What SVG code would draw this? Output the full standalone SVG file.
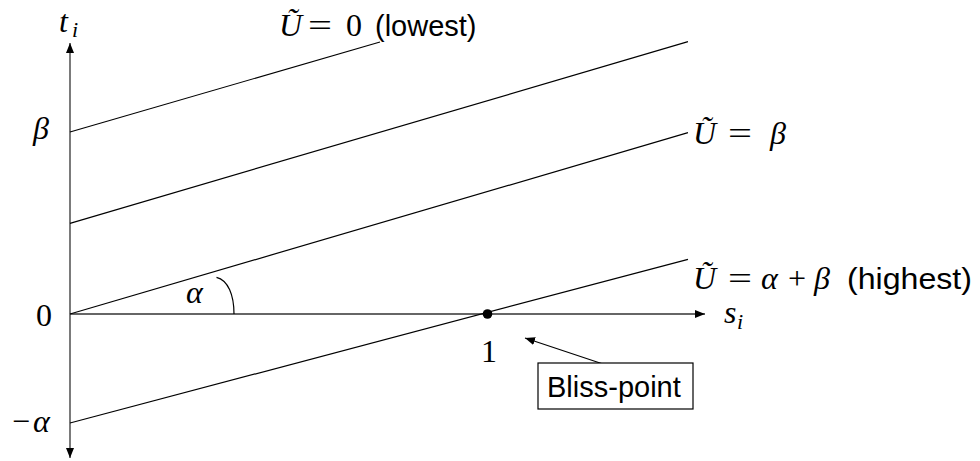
<svg xmlns="http://www.w3.org/2000/svg" width="980" height="461" viewBox="0 0 980 461">
<style>
.m{font-family:"Liberation Serif","DejaVu Serif",serif;font-size:32px;fill:#000}
.mi{font-family:"Liberation Serif","DejaVu Serif",serif;font-style:italic;font-size:32px;fill:#000}
.sub{font-family:"Liberation Serif","DejaVu Serif",serif;font-style:italic;font-size:22px;fill:#000}
.t{font-family:"Liberation Sans","DejaVu Sans",sans-serif;font-size:29px;fill:#000}
.ax{stroke:#333;stroke-width:1.3;fill:none}
.ln{stroke:#000;stroke-width:1.2;fill:none}
</style>
<defs>
<marker id="ah" viewBox="0 0 10 10" refX="10" refY="5" markerWidth="10" markerHeight="10" markerUnits="userSpaceOnUse" orient="auto">
<path d="M0,1 L10,5 L0,9 Z" fill="#000"/>
</marker>
</defs>
<g id="axes">
<line class="ax" x1="70" y1="314" x2="705" y2="314" marker-end="url(#ah)"/>
<line class="ax" x1="70" y1="314" x2="70" y2="43" marker-end="url(#ah)"/>
<line class="ax" x1="70" y1="314" x2="70" y2="458" marker-end="url(#ah)"/>
</g>
<g id="connectors">
<line class="ln" x1="70" y1="132" x2="380" y2="42"/>
<line class="ln" x1="70" y1="223.3" x2="688" y2="41.7"/>
<line class="ln" x1="70" y1="314" x2="688" y2="132.7"/>
<line class="ln" x1="70" y1="423" x2="688" y2="259.3"/>
<path class="ln" d="M216.5 277.3 C228 280,234 295,234 314"/>
<line class="ln" x1="615" y1="368" x2="525" y2="338" marker-end="url(#ah)"/>
</g>
<g id="bliss-dot"><circle cx="487.5" cy="314" r="4.8" fill="#000"/></g>
<g id="labels">
<text class="mi" x="59" y="32">t</text><text class="sub" x="72" y="37">i</text>
<text class="mi" x="33" y="139">β</text>
<text class="m" x="36" y="326">0</text>
<text class="m" x="12" y="432">−</text><text class="mi" x="33" y="432">α</text>
<text class="mi" x="186" y="303">α</text>
<text class="m" x="481" y="362">1</text>
<text class="mi" x="724" y="323">s</text><text class="sub" x="737" y="329">i</text>
<g id="label-lowest">
<text class="mi" x="279" y="36">Ũ</text>
<text class="m" x="308" y="36" textLength="24" lengthAdjust="spacingAndGlyphs">=</text>
<text class="m" x="346" y="36">0</text>
<text class="t" x="375" y="36">(lowest)</text>
</g>
<g id="label-beta">
<text class="mi" x="693" y="144">Ũ</text>
<text class="m" x="728" y="144" textLength="24" lengthAdjust="spacingAndGlyphs">=</text>
<text class="mi" x="770" y="144">β</text>
</g>
<g id="label-highest">
<text class="mi" x="693" y="289">Ũ</text>
<text class="m" x="728" y="289" textLength="24" lengthAdjust="spacingAndGlyphs">=</text>
<text class="mi" x="761" y="289">α</text>
<text class="m" x="788" y="289">+</text>
<text class="mi" x="814" y="289">β</text>
<text class="t" x="847" y="289" textLength="125" lengthAdjust="spacingAndGlyphs">(highest)</text>
</g>
</g>
<g id="bliss-point">
<rect x="538" y="363" width="155" height="46" fill="#fff" stroke="#000" stroke-width="1.2"/>
<text class="t" x="547" y="397">Bliss-point</text>
</g>
</svg>
